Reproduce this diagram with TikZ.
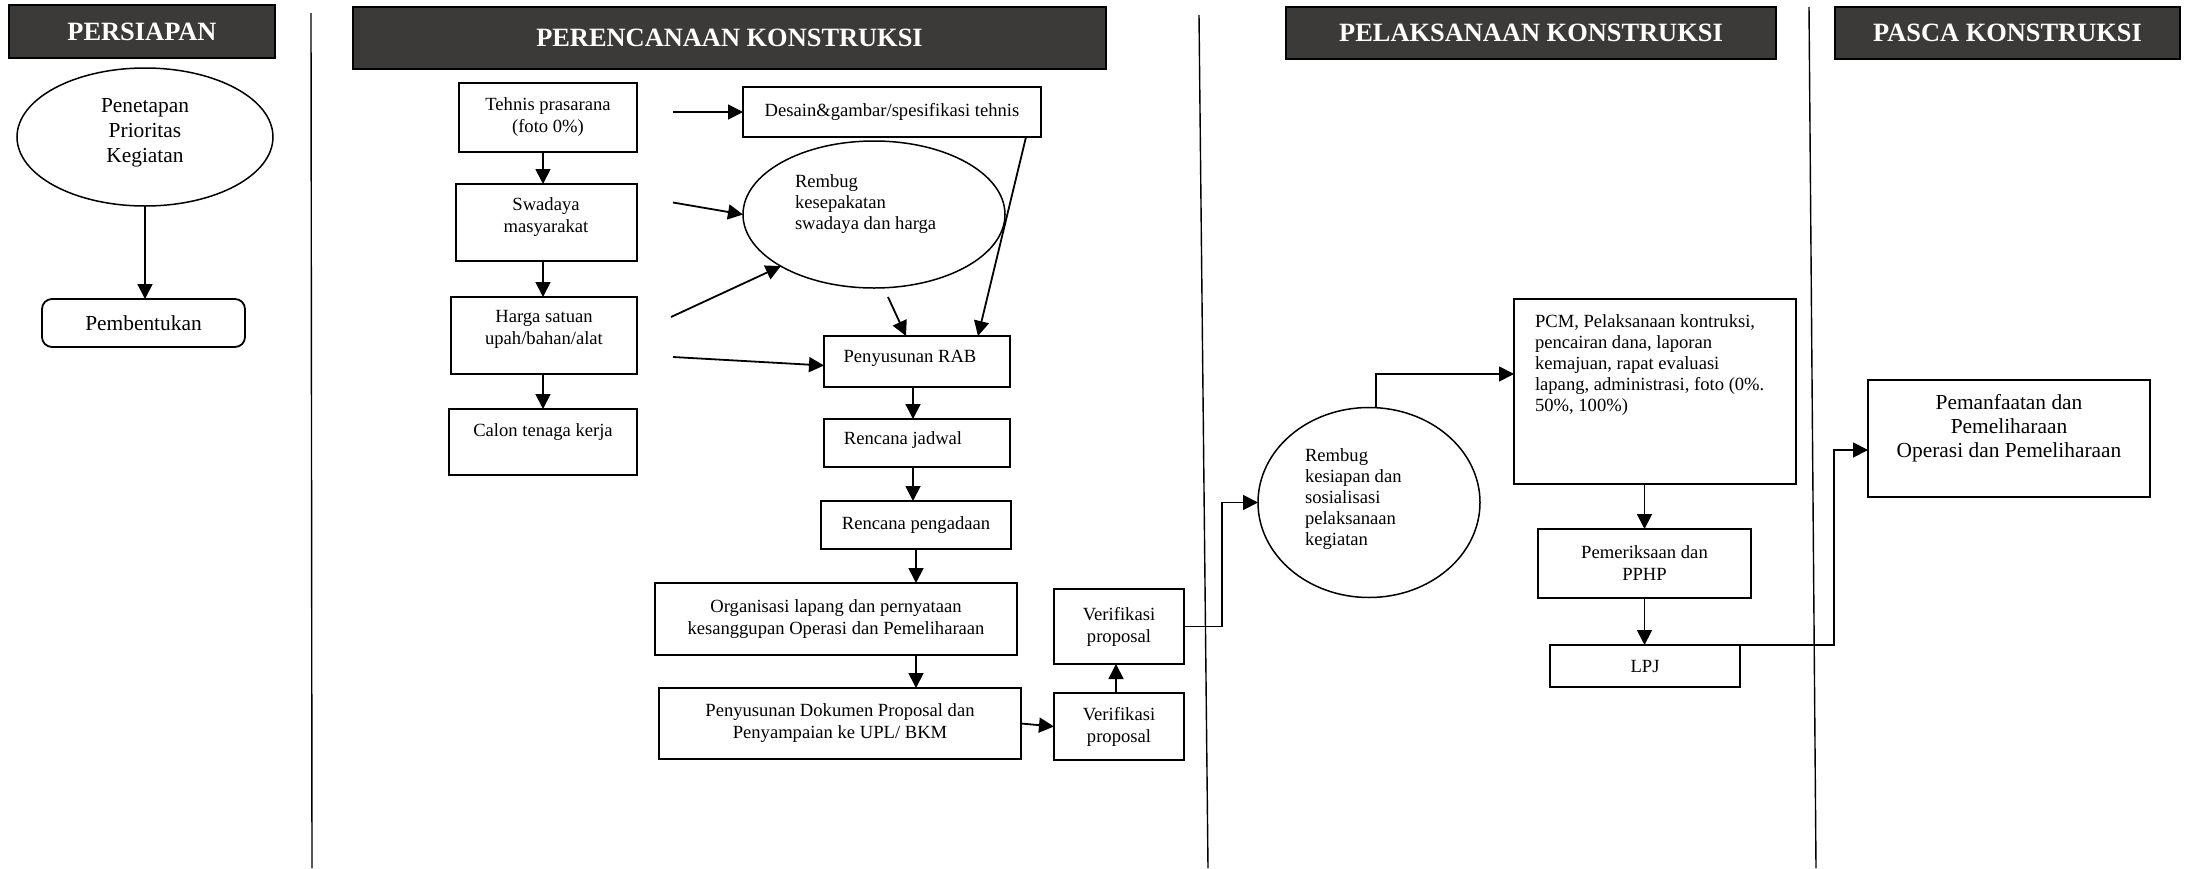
\documentclass[tikz,border=0pt]{standalone}
\usepackage{fontspec}
\setmainfont{Liberation Serif}
\usetikzlibrary{arrows.meta,shapes.geometric}
\definecolor{hdrfill}{RGB}{60,58,56}
\begin{document}
\begin{tikzpicture}[x=0.5pt,y=-0.5pt,
  every node/.style={inner sep=0pt, outer sep=0pt},
  hdr/.style={draw=black, line width=1pt, fill=hdrfill, text=white, font=\fontsize{13.2}{15}\selectfont\bfseries},
  box/.style={draw=black, line width=0.9pt, align=center, font=\fontsize{9.3}{11}\selectfont},
  bigbox/.style={box, font=\fontsize{10.7}{12.5}\selectfont},
  oval/.style={draw=black, ellipse, line width=0.75pt},
  txt/.style={align=center, font=\fontsize{9.3}{11}\selectfont},
  ltxt/.style={align=left, anchor=west, font=\fontsize{9.3}{10.5}\selectfont},
  bigtxt/.style={align=center, font=\fontsize{10.7}{12.5}\selectfont},
  arr/.style={draw=black, line width=0.9pt, -{Triangle[length=7.5pt,width=7.5pt]}},
  sep/.style={draw=black, line width=0.7pt}
]
\useasboundingbox (0,0) rectangle (2185,868);
\fill[white] (0,0) rectangle (2185,868);

% headers
\node[hdr, minimum width=133pt, minimum height=26.5pt] (hPers) at (142,31.5) {PERSIAPAN};
\node[hdr, minimum width=376.5pt, minimum height=31pt] (hPer) at (729.5,38) {PERENCANAAN KONSTRUKSI};
\node[hdr, minimum width=245pt, minimum height=26pt] (hPel) at (1531,33) {PELAKSANAAN KONSTRUKSI};
\node[hdr, minimum width=172.5pt, minimum height=26pt] (hPas) at (2007.5,33) {PASCA KONSTRUKSI};

% separators
\draw[sep] (311,13) -- (312,868);
\draw[sep] (1199,15) -- (1208,868);
\draw[sep] (1809,7) -- (1816,868);

% persiapan
\node[oval, minimum width=128pt, minimum height=69pt] (ePen) at (145,137) {};
\node[bigtxt] (ePenT) at (145,133) {Penetapan\\Prioritas\\Kegiatan};
\node[bigbox, rounded corners=5pt, minimum width=101.5pt, minimum height=24pt] (pemb) at (143.5,323) {Pembentukan};

% perencanaan
\node[box, minimum width=89pt, minimum height=34.5pt] (tehnis) at (548,117.5) {Tehnis prasarana\\(foto 0\%)};
\node[box, minimum width=90.5pt, minimum height=38.5pt] (swadaya) at (546.5,222.5) {};
\node[txt] (swadayaT) at (546,217.5) {Swadaya\\masyarakat};
\node[box, minimum width=93pt, minimum height=38.5pt] (harga) at (544,335.5) {};
\node[txt] (hargaT) at (544,329) {Harga satuan\\upah/bahan/alat};
\node[box, minimum width=94pt, minimum height=33pt] (calon) at (543,442) {};
\node[txt] (calonT) at (543,432) {Calon tenaga kerja};
\node[box, minimum width=149pt, minimum height=25pt] (desain) at (892,112) {Desain\&gambar/spesifikasi tehnis};
\node[oval, minimum width=131pt, minimum height=73.5pt] (eRem) at (874,214.5) {};
\node[ltxt] (eRemT) at (795,204) {Rembug\\kesepakatan\\swadaya dan harga};
\node[box, minimum width=93pt, minimum height=25.5pt] (rab) at (917,361.5) {};
\node[txt] (rabT) at (910,358) {Penyusunan RAB};
\node[box, minimum width=93pt, minimum height=24pt] (jadwal) at (917,443) {};
\node[txt] (jadwalT) at (903,440) {Rencana jadwal};
\node[box, minimum width=95pt, minimum height=24pt] (pengadaan) at (916,525) {Rencana pengadaan};
\node[box, minimum width=181pt, minimum height=36pt] (org) at (836,619) {Organisasi lapang dan pernyataan\\kesanggupan Operasi dan Pemeliharaan};
\node[box, minimum width=181pt, minimum height=35.5pt] (dok) at (840,723.5) {Penyusunan Dokumen Proposal dan\\Penyampaian ke UPL/ BKM};
\node[box, minimum width=65pt, minimum height=33.5pt] (ver2) at (1119,726.5) {Verifikasi\\proposal};
\node[box, minimum width=65pt, minimum height=37.5pt] (ver1) at (1119,626.5) {Verifikasi\\proposal};

% pelaksanaan
\node[oval, minimum width=111pt, minimum height=95pt] (eRk) at (1369,502.5) {};
\node[ltxt] (eRkT) at (1305,499.5) {Rembug\\kesiapan dan\\sosialisasi\\pelaksanaan\\kegiatan};
\node[box, minimum width=141pt, minimum height=92.5pt] (pcm) at (1655,391.5) {};
\node[ltxt] (pcmT) at (1535,365) {PCM, Pelaksanaan kontruksi,\\pencairan dana, laporan\\kemajuan, rapat evaluasi\\lapang, administrasi, foto (0\%.\\50\%, 100\%)};
\node[box, minimum width=106.5pt, minimum height=34.5pt] (pem) at (1644.5,563.5) {Pemeriksaan dan\\PPHP};
\node[box, minimum width=95pt, minimum height=21pt] (lpj) at (1645,666) {LPJ};

% pasca
\node[box, minimum width=141pt, minimum height=58.5pt] (manf) at (2009,438.5) {};
\node[align=center, font=\fontsize{10.7}{12}\selectfont] (manfT) at (2009,428) {Pemanfaatan dan\\Pemeliharaan\\Operasi dan Pemeliharaan};

% connectors
\draw[arr] (ePen.south) -- (ePen.south |- pemb.north);
\draw[arr] (tehnis.south -| calon.north) -- (swadaya.north -| calon.north);
\draw[arr] (swadaya.south -| calon.north) -- (harga.north -| calon.north);
\draw[arr] (harga.south -| calon.north) -- (calon.north);
\draw[arr, shorten <=18pt] (tehnis.east |- desain.west) -- (desain.west);
\draw[arr] ([shift={(36,-20)}]swadaya.east) -- (eRem.west);
\draw[arr] ([shift={(34,-18.5)}]harga.east) -- (eRem.209);
\draw[arr] ([shift={(36,21.5)}]harga.east) -- ([yshift=-2pt]rab.west);
\draw[arr] ([shift={(14,9)}]eRem.south) -- ([xshift=-5.5pt]rab.north);
\draw[arr] ([xshift=-7.5pt]desain.south east) -- ([xshift=30.5pt]rab.north);
\draw[arr] ([xshift=-2pt]rab.south) -- ([xshift=-2pt]rab.south |- jadwal.north);
\draw[arr] ([xshift=-2pt]jadwal.south) -- ([xshift=-2pt]jadwal.south |- pengadaan.north);
\draw[arr] (pengadaan.south) -- (pengadaan.south |- org.north);
\draw[arr] (org.south -| pengadaan.south) -- (dok.north -| pengadaan.south);
\draw[arr] (dok.east) -- (ver2.west);
\draw[arr] ([xshift=-1.5pt]ver2.north) -- ([xshift=-1.5pt]ver1.south);
\draw[arr] (ver1.east) -- ++(38,0) |- (eRk.west);
\draw[arr] ([xshift=3.5pt]eRk.north) |- ([yshift=8.75pt]pcm.west);
\draw[arr] (pcm.south -| pem.north) -- (pem.north);
\draw[arr] (pem.south) -- (pem.south |- lpj.north);
\draw[arr] (lpj.north east) -- ++(94,0) |- ([yshift=-5.75pt]manf.west);
\end{tikzpicture}
\end{document}
